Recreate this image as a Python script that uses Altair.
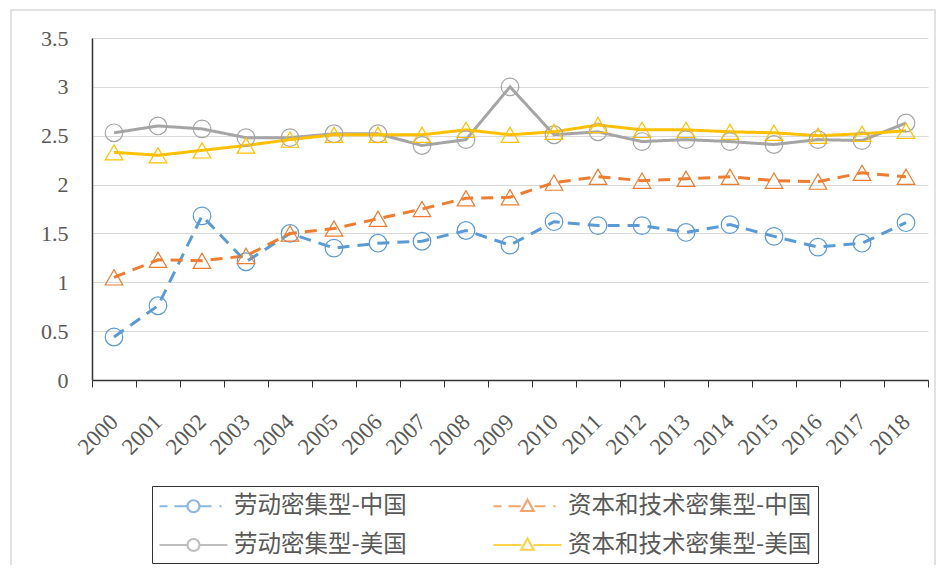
import altair as alt
import pandas as pd

years = [str(y) for y in range(2000, 2019)]
series_names = ["劳动密集型-中国", "资本和技术密集型-中国", "劳动密集型-美国", "资本和技术密集型-美国"]
labor_cn = [0.44, 0.76, 1.68, 1.21, 1.50, 1.35, 1.40, 1.42, 1.53, 1.38, 1.62, 1.58, 1.58, 1.51, 1.59, 1.47, 1.36, 1.40, 1.61]
capital_cn = [1.05, 1.23, 1.22, 1.27, 1.50, 1.55, 1.65, 1.75, 1.86, 1.87, 2.02, 2.08, 2.04, 2.06, 2.08, 2.04, 2.03, 2.12, 2.08]
labor_us = [2.53, 2.60, 2.57, 2.48, 2.48, 2.52, 2.52, 2.40, 2.46, 3.00, 2.51, 2.54, 2.44, 2.46, 2.44, 2.41, 2.46, 2.45, 2.63]
capital_us = [2.33, 2.30, 2.35, 2.40, 2.46, 2.51, 2.51, 2.51, 2.56, 2.51, 2.54, 2.61, 2.56, 2.56, 2.54, 2.53, 2.50, 2.52, 2.55]
y_ticks = [0, 0.5, 1, 1.5, 2, 2.5, 3, 3.5]

colors = ["#5B9BD5", "#ED7D31", "#A5A5A5", "#FFC000"]
dashes = [[12, 8], [12, 8], [1, 0], [1, 0]]
shapes = ["circle", "triangle-up", "circle", "triangle-up"]

# legend glyphs: line + marker as custom symbol paths
circ = "M2.2,0A0.48,0.48,0,1,1,1.24,0A0.48,0.48,0,1,1,2.2,0"
tri = "M1.72,-0.52L2.22,0.38L1.22,0.38Z"
dash_line = "M-1,0H-0.36M0.2,0H1.16M2.28,0H3.16M3.8,0H3.96"
solid_line = "M-1,0H1.24M2.2,0H4.44"
legend_paths = [dash_line + circ, dash_line + tri, solid_line + circ, solid_line + tri]

rows = []
for name, vals in zip(series_names, [labor_cn, capital_cn, labor_us, capital_us]):
    for yr, v in zip(years, vals):
        rows.append({"year": yr, "value": v, "series": name})
df = pd.DataFrame(rows)

x = alt.X("year:N", sort=years,
          scale=alt.Scale(type="band", paddingInner=0, paddingOuter=0),
          axis=alt.Axis(title=None, labelAngle=-45, labelAlign="right", labelBaseline="middle",
                        labelPadding=31, tickBand="extent", tickSize=7, tickColor="#333333",
                        domainColor="#333333", domainWidth=1.5, grid=False,
                        labelFont="Liberation Serif", labelFontSize=23, labelColor="#595959"))
y = alt.Y("value:Q", scale=alt.Scale(domain=[0, 3.5]),
          axis=alt.Axis(title=None, values=y_ticks, format="~g", ticks=False, tickSize=0,
                        labelPadding=24, domainColor="#333333", domainWidth=1.5,
                        gridColor="#d9d9d9", labelFont="Liberation Serif", labelFontSize=22,
                        labelColor="#595959"))

color_scale = alt.Scale(domain=series_names, range=colors)

base = alt.Chart(df)

frame = alt.Chart(pd.DataFrame({"a": [0]})).mark_rect(
    fill="white", fillOpacity=0, stroke="#d9d9d9", strokeWidth=1.5
).encode(x=alt.value(-81), x2=alt.value(843), y=alt.value(-28), y2=alt.value(545))

lines = base.mark_line(strokeWidth=3).encode(
    x=x, y=y, color=alt.Color("series:N", scale=color_scale, legend=None),
    strokeDash=alt.StrokeDash("series:N", scale=alt.Scale(domain=series_names, range=dashes), legend=None),
)

points = base.mark_point(filled=False, strokeWidth=1.2, size=310, opacity=1).encode(
    x=x, y=y, color=alt.Color("series:N", scale=color_scale, legend=None),
    shape=alt.Shape("series:N", scale=alt.Scale(domain=series_names, range=shapes), legend=None),
)

leg = dict(title=None, orient="none", legendX=60, legendY=448, columns=2, direction="horizontal",
           values=series_names,
           strokeColor="#333333", padding=6, symbolSize=625, symbolStrokeWidth=2.2,
           symbolFillColor="transparent", labelOffset=48, columnPadding=82, rowPadding=13,
           labelFont="Noto Sans CJK SC", labelFontSize=23.5, labelColor="#595959",
           labelLimit=400, fillColor="white")

legend_layer = base.transform_filter("datum.value < -1").mark_point(filled=False).encode(
    x=x, y=y,
    shape=alt.Shape("series:N", scale=alt.Scale(domain=series_names, range=legend_paths),
                    legend=alt.Legend(**leg)),
    color=alt.Color("series:N", scale=color_scale, legend=alt.Legend(**leg)),
)

chart = alt.layer(frame, lines, points, legend_layer).resolve_scale(
    shape="independent", color="independent"
).properties(
    width=836, height=342,
    autosize=alt.AutoSizeParams(type="none"),
    padding={"left": 84, "top": 30, "right": 8, "bottom": 185},
    background="white",
).configure_view(stroke=None)

chart.save("out.html", embed_options={"renderer": "svg", "actions": False})
